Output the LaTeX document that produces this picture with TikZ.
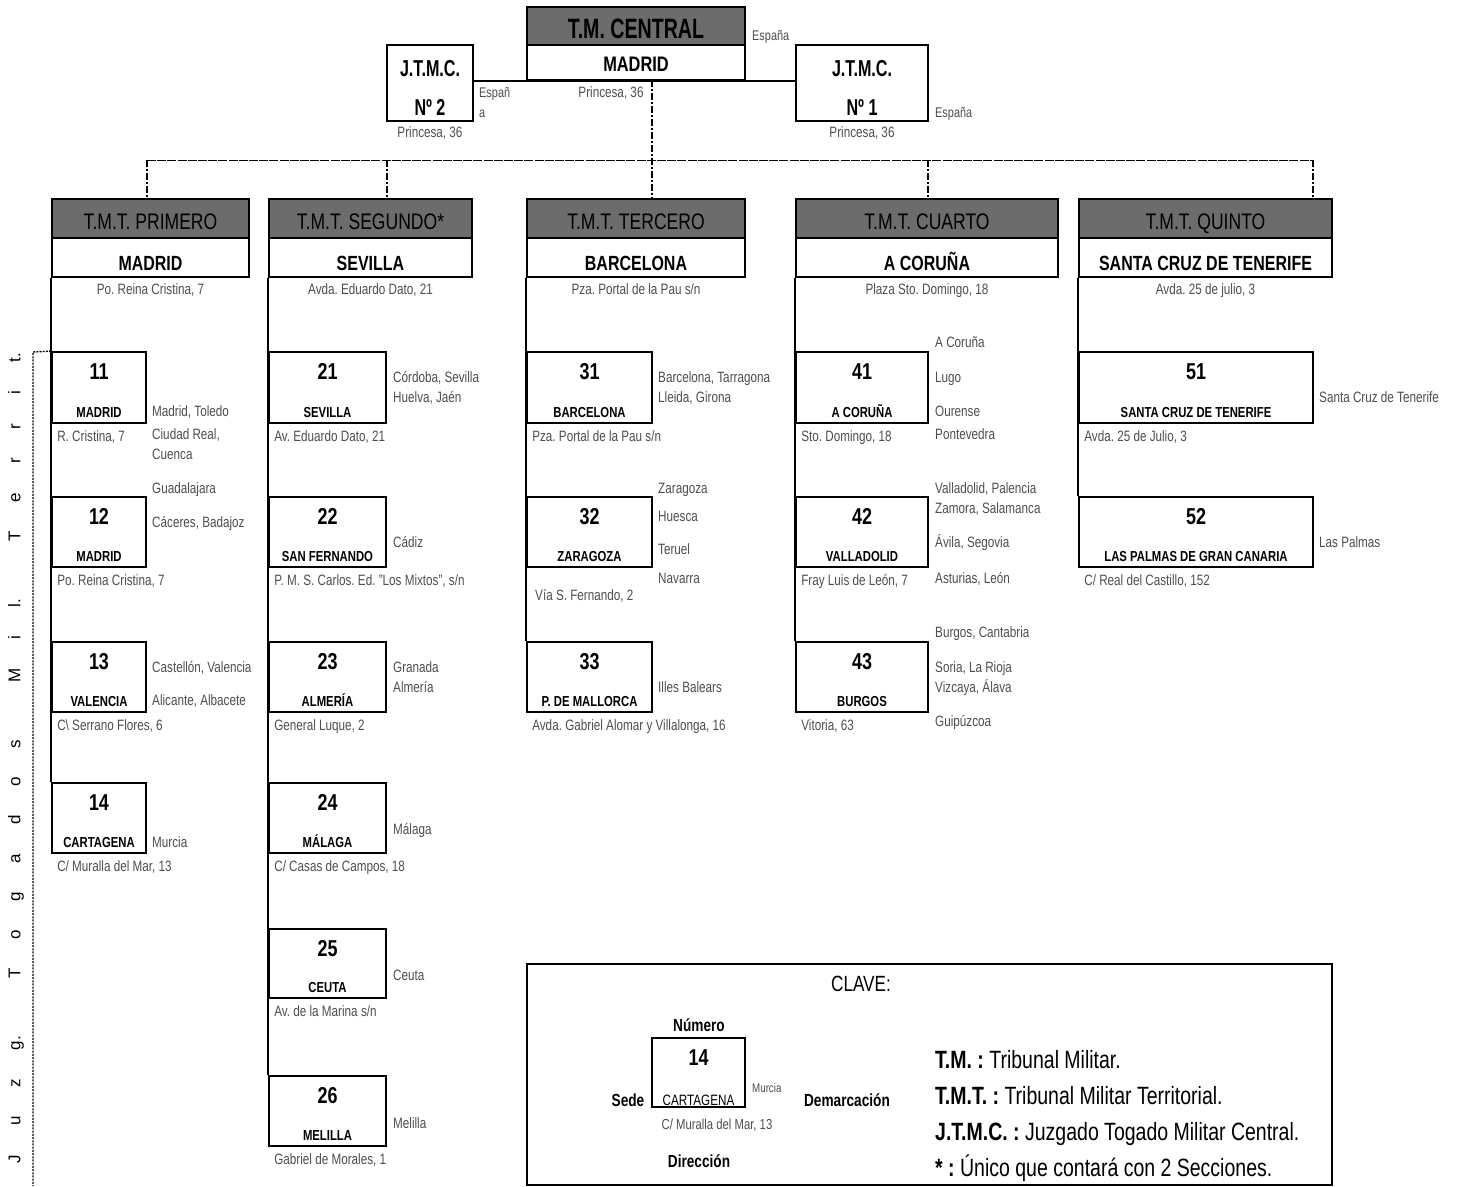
\documentclass[tikz,border=0pt]{standalone}
\usepackage{fontspec}
\setmainfont{Liberation Sans}[FakeStretch=0.78]
\newfontfamily\condf{Liberation Sans}[FakeStretch=0.7]
\newfontfamily\plainf{Liberation Sans}
\definecolor{hdrgray}{RGB}{108,108,108}
\definecolor{txtgray}{RGB}{78,78,78}
\tikzset{
  x=1pt, y=-1pt,
  hdr/.style={draw, line width=1.8pt, fill=hdrgray, inner sep=0},
  cbox/.style={draw, line width=1.8pt, fill=white, inner sep=0},
  sbox/.style={draw, line width=1.8pt, fill=white, inner sep=0},
  lbox/.style={draw, line width=1.8pt, inner sep=0},
  hdrtxt/.style={inner sep=0, text height=16.1pt, text depth=0pt, font=\fontsize{22.5}{22.5}\selectfont},
  ctxt/.style={inner sep=0, text height=14.7pt, text depth=0pt, font=\fontsize{20.5}{20.5}\selectfont\bfseries},
  num/.style={inner sep=0, text height=16.5pt, text depth=0pt, font=\fontsize{23}{23}\selectfont\bfseries},
  city/.style={inner sep=0, text height=10.4pt, text depth=0pt, font=\fontsize{14.5}{14.5}\selectfont\bfseries},
  gtxt/.style={inner sep=0, text height=10.7pt, text depth=0pt, anchor=west, text=txtgray, font=\fontsize{15}{15}\selectfont},
  jt/.style={inner sep=0, text height=16.5pt, text depth=0pt, font=\condf\fontsize{23}{23}\selectfont\bfseries},
  lbold/.style={inner sep=0, text height=12.5pt, text depth=0pt, font=\fontsize{17.5}{17.5}\selectfont\bfseries},
  ldef/.style={inner sep=0, text height=17.9pt, text depth=0pt, anchor=west, font=\fontsize{25}{25}\selectfont},
  conn/.style={line width=1.5pt},
  busv/.style={line width=1.3pt, dash pattern=on 7pt off 2pt on 2pt off 2pt},
  bush/.style={line width=1pt, dash pattern=on 9pt off 1.2pt},
  ldot/.style={line width=1.4pt, dash pattern=on 2pt off 1.2pt},
}
\newcommand{\rbox}[6]{\node[#1, minimum width={(#5-#3)*1pt}, minimum height={(#6-#4)*1pt}] (#2) at ({(#3+#5)/2},{(#4+#6)/2}) {};}
\newcommand{\jz}[7]{%
  \rbox{sbox}{#1}{#2}{#3}{#4}{#5}
  \node[num] (#1n) at ([yshift=-20pt]#1.north) {#6};
  \node[city] (#1c) at ([yshift=12pt]#1.south) {#7};}
\newcommand{\jadr}[2]{\node[gtxt] (#1a) at ([xshift=6pt,yshift=-12pt]#1.south west) {#2};}
\newcommand{\tmt}[6]{%
  \rbox{hdr}{#1h}{#2}{199}{#3}{238}
  \rbox{cbox}{#1c}{#2}{238}{#3}{277}
  \node[hdrtxt] (#1ht) at ([yshift=-2.5pt]#1h.center) {#4};
  \node[ctxt] (#1ct) at ([yshift=-5.5pt]#1c.center) {#5};
  \node[gtxt, anchor=center] (#1a) at ([yshift=-11pt]#1c.south) {#6};}
\begin{document}
\frenchspacing
\begin{tikzpicture}
\fill[white] (0,0) rectangle (1459,1186);
\useasboundingbox (0,0) rectangle (1459,1186);

% ---------- top level ----------
\rbox{hdr}{cmh}{527}{7}{745}{45}
\rbox{cbox}{cmc}{527}{45}{745}{80}
\node[inner sep=0, text height=20pt, text depth=0pt, font=\condf\fontsize{28}{28}\selectfont\bfseries] (cmht) at (636,28) {T.M. CENTRAL};
\node[inner sep=0, text height=15pt, text depth=0pt, font=\fontsize{21}{21}\selectfont\bfseries] (cmct) at (636,64) {MADRID};
\node[gtxt, font=\fontsize{14}{14}\selectfont] (cme) at (752,35) {España};
\node[gtxt, anchor=center] (cma) at (611,92) {Princesa, 36};

\rbox{sbox}{jt2}{387}{45}{473}{121}
\node[jt] (jt2a) at (430,68) {J.T.M.C.};
\node[jt] (jt2b) at (430,107) {Nº 2};
\node[gtxt, font=\fontsize{14}{14}\selectfont] (jt2e1) at (479,92) {Españ};
\node[gtxt, font=\fontsize{14}{14}\selectfont] (jt2e2) at (479,112) {a};
\node[gtxt, anchor=center] (jt2p) at (430,132) {Princesa, 36};

\rbox{sbox}{jt1}{796}{45}{928}{121}
\node[jt] (jt1a) at (862,68) {J.T.M.C.};
\node[jt] (jt1b) at (862,107) {Nº 1};
\node[gtxt, font=\fontsize{14}{14}\selectfont] (jt1e) at (935,112) {España};
\node[gtxt, anchor=center] (jt1p) at (862,132) {Princesa, 36};

\draw[conn] (jt2.east |- cmc.south) -- (jt1.west |- cmc.south);

% ---------- T.M.T. ----------
\tmt{t1}{52}{249}{T.M.T. PRIMERO}{MADRID}{Po. Reina Cristina, 7}
\tmt{t2}{269}{472}{T.M.T. SEGUNDO*}{SEVILLA}{Avda. Eduardo Dato, 21}
\tmt{t3}{527}{745}{T.M.T. TERCERO}{BARCELONA}{Pza. Portal de la Pau s/n}
\tmt{t4}{796}{1058}{T.M.T. CUARTO}{A CORUÑA}{Plaza Sto. Domingo, 18}
\tmt{t5}{1079}{1332}{T.M.T. QUINTO}{SANTA CRUZ DE TENERIFE}{Avda. 25 de julio, 3}

\coordinate (tap) at (652,80);
\coordinate (b1) at (147,160);
\coordinate (b2) at (387,160);
\coordinate (b3) at (652,160);
\coordinate (b4) at (928,160);
\coordinate (b5) at (1313,160);
\draw[busv] (tap) -- (tap |- t3h.north);
\draw[bush] (b1) -- (b5);
\draw[busv] (b1) -- (b1 |- t1h.north);
\draw[busv] (b2) -- (b2 |- t2h.north);
\draw[busv] (b4) -- (b4 |- t4h.north);
\draw[busv] (b5) -- (b5 |- t5h.north);

% ---------- column 1 ----------
\jz{j11}{52}{352}{146}{423}{11}{MADRID}
\jadr{j11}{R. Cristina, 7}
\jz{j12}{52}{497}{146}{567}{12}{MADRID}
\jadr{j12}{Po. Reina Cristina, 7}
\jz{j13}{52}{642}{146}{712}{13}{VALENCIA}
\jadr{j13}{C\textbackslash{} Serrano Flores, 6}
\jz{j14}{52}{783}{146}{853}{14}{CARTAGENA}
\jadr{j14}{C/ Muralla del Mar, 13}
\node[gtxt] (d11a) at (152,411) {Madrid, Toledo};
\node[gtxt] (d11b) at (152,434) {Ciudad Real,};
\node[gtxt] (d11c) at (152,454) {Cuenca};
\node[gtxt] (d11d) at (152,488) {Guadalajara};
\node[gtxt] (d12a) at (152,522) {Cáceres, Badajoz};
\node[gtxt] (d13a) at (152,667) {Castellón, Valencia};
\node[gtxt] (d13b) at (152,700) {Alicante, Albacete};
\node[gtxt] (d14a) at (152,842) {Murcia};

% ---------- column 2 ----------
\jz{j21}{269}{352}{386}{423}{21}{SEVILLA}
\jadr{j21}{Av. Eduardo Dato, 21}
\jz{j22}{269}{497}{386}{567}{22}{SAN FERNANDO}
\jadr{j22}{P. M. S. Carlos. Ed. "Los Mixtos", s/n}
\jz{j23}{269}{642}{386}{712}{23}{ALMERÍA}
\jadr{j23}{General Luque, 2}
\jz{j24}{269}{783}{386}{853}{24}{MÁLAGA}
\jadr{j24}{C/ Casas de Campos, 18}
\jz{j25}{269}{929}{386}{998}{25}{CEUTA}
\jadr{j25}{Av. de la Marina s/n}
\jz{j26}{269}{1076}{386}{1146}{26}{MELILLA}
\jadr{j26}{Gabriel de Morales, 1}
\node[gtxt] (d21a) at (393,377) {Córdoba, Sevilla};
\node[gtxt] (d21b) at (393,397) {Huelva, Jaén};
\node[gtxt] (d22a) at (393,542) {Cádiz};
\node[gtxt] (d23a) at (393,667) {Granada};
\node[gtxt] (d23b) at (393,687) {Almería};
\node[gtxt] (d24a) at (393,829) {Málaga};
\node[gtxt] (d25a) at (393,975) {Ceuta};
\node[gtxt] (d26a) at (393,1123) {Melilla};

% ---------- column 3 ----------
\jz{j31}{527}{352}{652}{423}{31}{BARCELONA}
\jadr{j31}{Pza. Portal de la Pau s/n}
\jz{j32}{527}{497}{652}{567}{32}{ZARAGOZA}
\node[gtxt] (j32a) at (535,595) {Vía S. Fernando, 2};
\jz{j33}{527}{642}{652}{712}{33}{P. DE MALLORCA}
\jadr{j33}{Avda. Gabriel Alomar y Villalonga, 16}
\node[gtxt] (d31a) at (658,377) {Barcelona, Tarragona};
\node[gtxt] (d31b) at (658,397) {Lleida, Girona};
\node[gtxt] (d32a) at (658,488) {Zaragoza};
\node[gtxt] (d32b) at (658,516) {Huesca};
\node[gtxt] (d32c) at (658,549) {Teruel};
\node[gtxt] (d32d) at (658,578) {Navarra};
\node[gtxt] (d33a) at (658,687) {Illes Balears};

% ---------- column 4 ----------
\jz{j41}{796}{352}{928}{423}{41}{A CORUÑA}
\jadr{j41}{Sto. Domingo, 18}
\jz{j42}{796}{497}{928}{567}{42}{VALLADOLID}
\jadr{j42}{Fray Luis de León, 7}
\jz{j43}{796}{642}{928}{712}{43}{BURGOS}
\jadr{j43}{Vitoria, 63}
\node[gtxt] (d41a) at (935,342) {A Coruña};
\node[gtxt] (d41b) at (935,377) {Lugo};
\node[gtxt] (d41c) at (935,411) {Ourense};
\node[gtxt] (d41d) at (935,434) {Pontevedra};
\node[gtxt] (d42a) at (935,488) {Valladolid, Palencia};
\node[gtxt] (d42b) at (935,508) {Zamora, Salamanca};
\node[gtxt] (d42c) at (935,542) {Ávila, Segovia};
\node[gtxt] (d42d) at (935,578) {Asturias, León};
\node[gtxt] (d43a) at (935,632) {Burgos, Cantabria};
\node[gtxt] (d43b) at (935,667) {Soria, La Rioja};
\node[gtxt] (d43c) at (935,687) {Vizcaya, Álava};
\node[gtxt] (d43d) at (935,721) {Guipúzcoa};

% ---------- column 5 ----------
\jz{j51}{1079}{352}{1313}{423}{51}{SANTA CRUZ DE TENERIFE}
\jadr{j51}{Avda. 25 de Julio, 3}
\jz{j52}{1079}{497}{1313}{567}{52}{LAS PALMAS DE GRAN CANARIA}
\jadr{j52}{C/ Real del Castillo, 152}
\node[gtxt] (d51a) at (1319,397) {Santa Cruz de Tenerife};
\node[gtxt] (d52a) at (1319,542) {Las Palmas};

% ---------- column lines ----------
\draw[conn] (t1c.south west) -- (j14.north west);
\draw[conn] (t2c.south west) -- (j26.north west);
\draw[conn] (t3c.south west) -- (j33.north west);
\draw[conn] (t4c.south west) -- (j43.north west);
\draw[conn] (t5c.south west) -- (j52.north west);

% ---------- left bracket ----------
\coordinate (lt) at (33,352);
\coordinate (lb) at (33,1186);
\draw[ldot] (j11.north west) -- (lt) -- (lb);
\node[rotate=90, inner sep=0, font=\plainf\fontsize{17}{17}\selectfont] (vt) at (16,758)
  {\makebox[810pt][l]{J\hfill u\hfill z\hfill g.\hfill\hfill T\hfill o\hfill g\hfill a\hfill d\hfill o\hfill s\hfill\hfill M\hfill i\hfill l.\hfill\hfill T\hfill e\hfill r\hfill r\hfill i\hfill t.}};

% ---------- legend ----------
\rbox{lbox}{leg}{527}{964}{1332}{1185}
\node[inner sep=0, text height=15.8pt, text depth=0pt, font=\fontsize{22}{22}\selectfont] (clave) at (861,984) {CLAVE:};
\rbox{sbox}{lk}{652}{1038}{745}{1107}
\node[num] (lkn) at ([yshift=-20pt]lk.north) {14};
\node[inner sep=0, text height=10.7pt, text depth=0pt, font=\fontsize{15}{15}\selectfont] (lkc) at ([yshift=8pt]lk.south) {CARTAGENA};
\node[lbold] (lnum) at (699,1025) {Número};
\node[lbold] (lsede) at (628,1100) {Sede};
\node[gtxt, text height=9pt, font=\fontsize{12.5}{12.5}\selectfont] (lmur) at (752,1088) {Murcia};
\node[lbold] (ldem) at (847,1100) {Demarcación};
\node[gtxt, anchor=center, text height=10.4pt, font=\fontsize{14.5}{14.5}\selectfont] (ldir) at (717,1124) {C/ Muralla del Mar, 13};
\node[lbold] (ldirl) at (699,1161) {Dirección};
\node[ldef] (def1) at (935,1060) {\textbf{T.M. :} Tribunal Militar.};
\node[ldef] (def2) at (935,1096) {\textbf{T.M.T. :} Tribunal Militar Territorial.};
\node[ldef] (def3) at (935,1132) {\textbf{J.T.M.C. :} Juzgado Togado Militar Central.};
\node[ldef] (def4) at (935,1168) {\textbf{* :} Único que contará con 2 Secciones.};
\end{tikzpicture}
\end{document}
